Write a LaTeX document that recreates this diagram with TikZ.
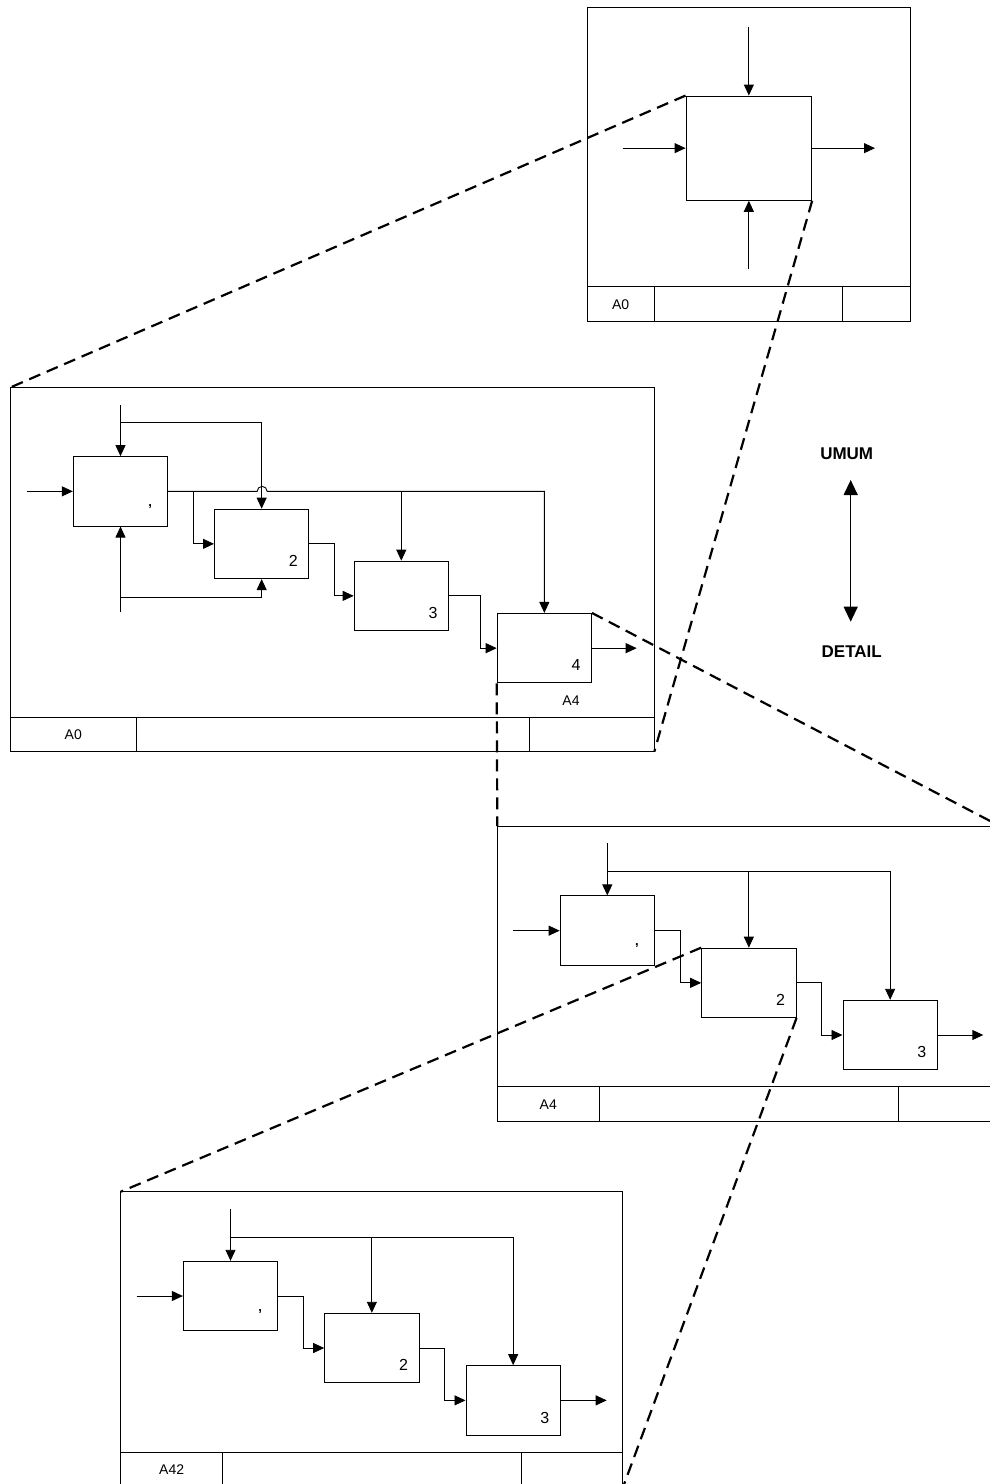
\documentclass[tikz,border=0pt]{standalone}
\usepackage{fontspec}
\setmainfont{Liberation Sans}
\usetikzlibrary{arrows.meta, positioning, calc}

\begin{document}
\begin{tikzpicture}[x=1pt, y=-1pt, line width=0.9pt,
  proc/.style={draw, minimum width=94.4pt, minimum height=69.5pt, inner sep=0pt},
  flow/.style={-{Triangle[length=11pt, width=10pt]}},
  zoomline/.style={line width=2.2pt, dash pattern=on 12pt off 7pt},
  num/.style={font=\fontsize{16}{16}\selectfont, inner sep=0pt},
  tag/.style={font=\fontsize{14}{14}\selectfont, inner sep=0pt},
  tickmark/.style={font=\bfseries\fontsize{13}{13}\selectfont, inner sep=0pt},
  scalelbl/.style={font=\bfseries\fontsize{17}{17}\selectfont, inner sep=0pt}]
  \useasboundingbox (0,0) rectangle (990,1484);
  \clip (0,0) rectangle (990,1484);

  % ---- Context diagram A0 ----
  \draw (587.3,7.3) rectangle (910,321.7);
  \draw (587.3,286.7) -- (910,286.7);
  \draw (654,286.7) -- (654,321.7);
  \draw (842.7,286.7) -- (842.7,321.7);
  \node[tag] (t0tag) at (620.6,304.2) {A0};
  \node[proc, minimum width=125.7pt, minimum height=104.3pt] (tb) at (748.85,148.15) {};
  \coordinate (tin)  at (622.7,148.15);
  \coordinate (tout) at (875,148.15);
  \coordinate (tctl) at (748.85,26.7);
  \coordinate (tmec) at (748.85,269.3);
  \draw[flow] (tin) -- (tb.west);
  \draw[flow] (tb.east) -- (tout);
  \draw[flow] (tctl) -- (tb.north);
  \draw[flow] (tmec) -- (tb.south);

  % ---- Decomposition A0 ----
  \draw (10.7,387.3) rectangle (654.3,751.7);
  \draw (10.7,717.3) -- (654.3,717.3);
  \draw (136,717.3) -- (136,751.7);
  \draw (529,717.3) -- (529,751.7);
  \node[tag] (f0tag) at (73.3,734.5) {A0};
  \coordinate (f0nw) at (10.7,387.3);
  \coordinate (f0se) at (654.3,751.7);

  \node[proc] (b1) at (120.5,491.35) {};
  \node[proc] (b2) at (261.65,543.85) {};
  \node[proc] (b3) at (401.3,595.85) {};
  \node[proc] (b4) at (544.35,648.15) {};
  \node[tickmark] (b1n) at ([shift={(-18,-20)}]b1.south east) {,};
  \node[num] (b2n) at ([shift={(-16,-18)}]b2.south east) {2};
  \node[num] (b3n) at ([shift={(-16,-18)}]b3.south east) {3};
  \node[num] (b4n) at ([shift={(-16,-18)}]b4.south east) {4};
  \node[tag] (b4ref) at (571,701) {A4};

  \coordinate (in1)  at (26.7,491.35);
  \coordinate (ctl1) at (120.5,405);
  \coordinate (ctlj) at (120.5,422.3);
  \coordinate (mec1) at (120.5,612.3);
  \coordinate (mecj) at (120.5,597.3);
  \coordinate (out4) at (636.7,648.15);
  \draw[flow] (in1) -- (b1.west);
  \draw[flow] (ctl1) -- (b1.north);
  \draw[flow] (ctlj) -| (b2.north);
  \draw[flow] (mec1) -- (b1.south);
  \draw[flow] (mecj) -| (b2.south);
  \draw[flow] (b1.east) -- ++(89,0) arc[start angle=180, end angle=360, radius=5] -| (b4.north);
  \draw[flow] (b3.north |- b1.east) -- (b3.north);
  \draw[flow] ([xshift=25pt]b1.east) |- (b2.west);
  \draw[flow] (b2.east) -- ++(25,0) |- (b3.west);
  \draw[flow] (b3.east) -- ++(31,0) |- (b4.west);
  \draw[flow] (b4.east) -- (out4);

  % ---- Decomposition A4 ----
  \draw (497.3,826) rectangle (999.7,1121.7);
  \draw (497.3,1086.7) -- (999.7,1086.7);
  \draw (599.3,1086.7) -- (599.3,1121.7);
  \draw (898.3,1086.7) -- (898.3,1121.7);
  \node[tag] (f4tag) at (548.3,1104.2) {A4};
  \coordinate (f4nw) at (497.3,826);
  \coordinate (f4ne) at (999.7,826);

  \node[proc] (mb1) at (607.3,930.65) {};
  \node[proc] (mb2) at (748.85,982.85) {};
  \node[proc] (mb3) at (890.15,1035) {};
  \node[tickmark] (mb1n) at ([shift={(-18,-20)}]mb1.south east) {,};
  \node[num] (mb2n) at ([shift={(-16,-18)}]mb2.south east) {2};
  \node[num] (mb3n) at ([shift={(-16,-18)}]mb3.south east) {3};

  \coordinate (min)   at (513.3,930.65);
  \coordinate (mctl)  at (607.3,843.3);
  \coordinate (mctlj) at (607.3,871.7);
  \coordinate (mout)  at (983.3,1035);
  \draw[flow] (min) -- (mb1.west);
  \draw[flow] (mctl) -- (mb1.north);
  \draw[flow] (mctlj) -| (mb3.north);
  \draw[flow] (mb2.north |- mctlj) -- (mb2.north);
  \draw[flow] (mb1.east) -- ++(25.4,0) |- (mb2.west);
  \draw[flow] (mb2.east) -- ++(25,0) |- (mb3.west);
  \draw[flow] (mb3.east) -- (mout);

  % ---- Decomposition A42 ----
  \draw (120.7,1191.7) rectangle (622.7,1488);
  \draw (120.7,1452.7) -- (622.7,1452.7);
  \draw (222.7,1452.7) -- (222.7,1488);
  \draw (521,1452.7) -- (521,1488);
  \node[tag] (f42tag) at (171.7,1470) {A42};
  \coordinate (f42nw) at (120.7,1191.7);
  \coordinate (f42se) at (622.7,1488);

  \node[proc] (lb1) at (230.5,1296) {};
  \node[proc] (lb2) at (371.85,1348) {};
  \node[proc] (lb3) at (513.15,1400.35) {};
  \node[tickmark] (lb1n) at ([shift={(-18,-20)}]lb1.south east) {,};
  \node[num] (lb2n) at ([shift={(-16,-18)}]lb2.south east) {2};
  \node[num] (lb3n) at ([shift={(-16,-18)}]lb3.south east) {3};

  \coordinate (lin)   at (136.7,1296);
  \coordinate (lctl)  at (230.5,1209.3);
  \coordinate (lctlj) at (230.5,1237);
  \coordinate (lout)  at (606.7,1400.35);
  \draw[flow] (lin) -- (lb1.west);
  \draw[flow] (lctl) -- (lb1.north);
  \draw[flow] (lctlj) -| (lb3.north);
  \draw[flow] (lb2.north |- lctlj) -- (lb2.north);
  \draw[flow] (lb1.east) -- ++(25,0) |- (lb2.west);
  \draw[flow] (lb2.east) -- ++(25,0) |- (lb3.west);
  \draw[flow] (lb3.east) -- (lout);

  % ---- Level arrow ----
  \node[scalelbl] (umum) at (846.7,453.3) {UMUM};
  \node[scalelbl] (detail) at (851.7,651.7) {DETAIL};
  \coordinate (gen) at (850.7,480);
  \coordinate (det) at (850.7,621.7);
  \draw[line width=1.3pt, {Triangle[length=15pt, width=14pt]}-{Triangle[length=15pt, width=14pt]}] (gen) -- (det);

  % ---- Zoom lines ----
  \draw[zoomline] (tb.north west) -- (f0nw);
  \draw[zoomline] (tb.south east) -- (f0se);
  \draw[zoomline] (b4.north east) -- (f4ne);
  \draw[zoomline] (b4.south west) -- (f4nw);
  \draw[zoomline] (mb2.north west) -- (f42nw);
  \draw[zoomline] (mb2.south east) -- (f42se);
\end{tikzpicture}
\end{document}
